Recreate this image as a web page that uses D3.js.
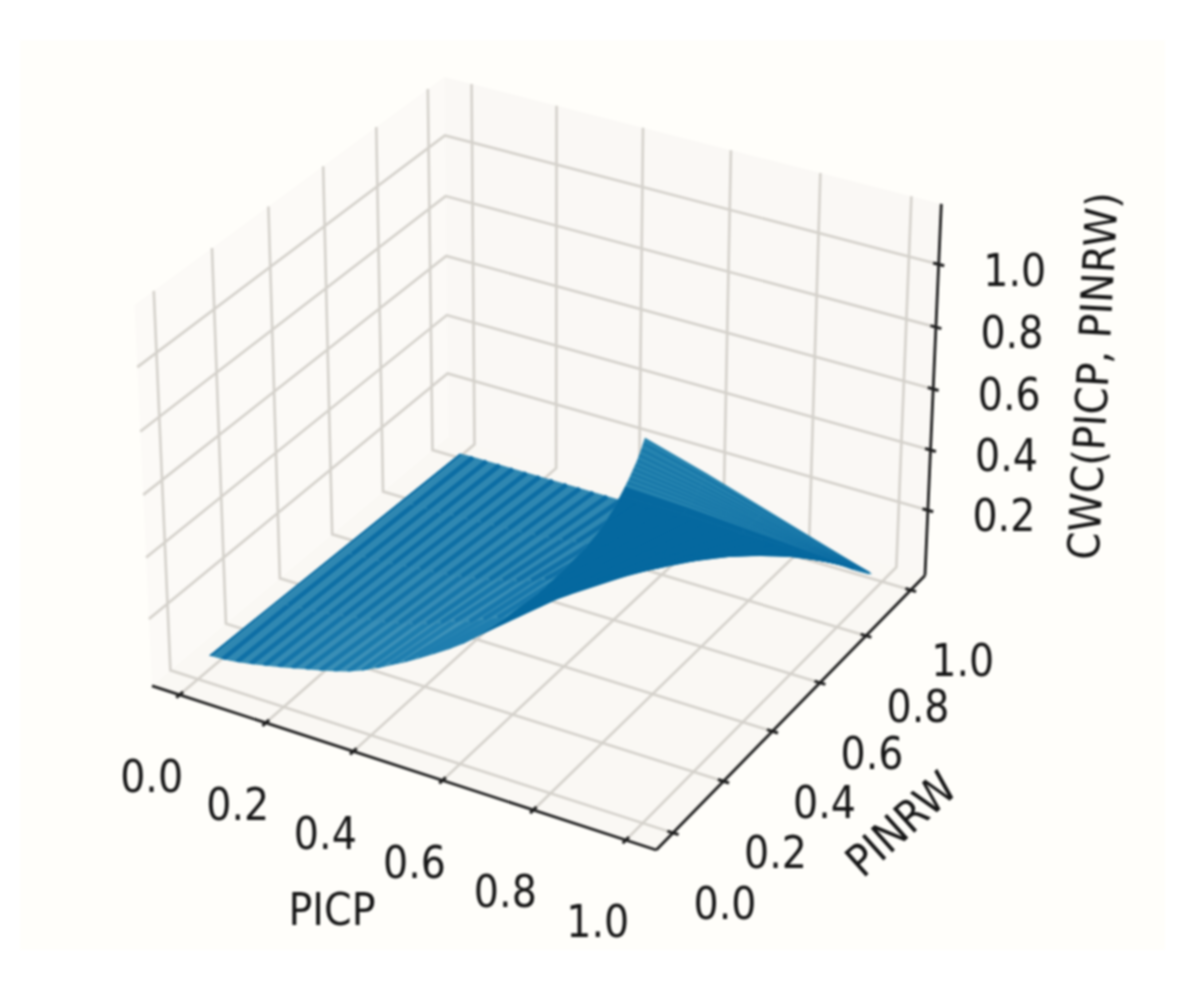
<!DOCTYPE html>
<html><head><meta charset="utf-8">
<script src="https://cdnjs.cloudflare.com/ajax/libs/d3/7.8.5/d3.min.js"></script>
<style>html,body{margin:0;background:#fff}svg{display:block;filter:blur(.9px)}text{font-family:"DejaVu Sans",sans-serif;fill:#151515}</style>
</head><body><div id="c"></div>
<script>
// ---------- data ----------
const picpGrid = [.015,.047,.08,.112,.144,.177,.209,.241,.274,.306,.338,.371,.403,.435,.468,.5,.532,.565,.597,.629,.662,.694,.726,.759,.791,.823,.856,.888,.896,.904,.912,.92,.928,.936,.944,.9485,.953,.957,.961,.965,.969,.973,.977,.981,.985];
const pinrwGrid = [.02,.26,.5,.74,.98];
const cwcAtPinrw000 = [.05,.052,.058,.066,.075,.085,.096,.107,.118,.13,.144,.162,.185,.21,.235,.262,.29,.32,.352,.39,.435,.48,.53,.58,.635,.695,.755,.825,.845,.865,.888,.91,.935,.958,.985,1.0,1.015,1.03,1.045,1.06,1.075,1.092,1.11,1.13,1.15];
const cwcAtPinrw025 = [.045,.045,.049,.053,.06,.068,.075,.083,.09,.101,.113,.128,.146,.165,.178,.2,.22,.243,.27,.3,.338,.368,.405,.443,.484,.529,.574,.626,.641,.656,.674,.69,.709,.726,.746,.7575,.769,.78,.791,.8025,.814,.8265,.84,.855,.87];
const cwcAtPinrw050 = [.035,.035,.038,.04,.045,.05,.055,.06,.065,.073,.08,.09,.103,.115,.13,.148,.165,.183,.195,.21,.23,.25,.275,.30,.328,.358,.388,.423,.433,.443,.454,.465,.478,.489,.503,.51,.518,.525,.533,.54,.548,.556,.565,.575,.585];
const cwcAtPinrw075 = [.025,.025,.026,.027,.03,.032,.035,.037,.04,.043,.047,.052,.058,.065,.072,.081,.09,.098,.105,.112,.122,.132,.145,.157,.171,.186,.201,.218,.223,.228,.234,.24,.246,.252,.258,.262,.266,.27,.273,.277,.281,.285,.29,.295,.3];
const cwcAtPinrw100 = [.015,.015,.015,.015,.015,.015,.015,.015,.015,.015,.015,.015,.015,.015,.015,.015,.015,.015,.015,.015,.015,.015,.015,.015,.015,.015,.015,.015,.015,.015,.015,.015,.015,.015,.015,.015,.015,.015,.015,.015,.015,.015,.015,.015,.015];
const cwcRows = [cwcAtPinrw000,cwcAtPinrw025,cwcAtPinrw050,cwcAtPinrw075,cwcAtPinrw100];
const xTicks = [0,.2,.4,.6,.8,1];
const yTicks = [0,.2,.4,.6,.8,1];
const zTicks = [.2,.4,.6,.8,1];
const xName = "PICP", yName = "PINRW", zName = "CWC(PICP, PINRW)";

// ---------- 3D scales and projection (elev 30, azim -60, box 4:4:3) ----------
const W=1197,H=982;
const xLim=[-.065,1.065], yLim=[-.065,1.065], zLim=[-.02,1.19];
const bx=1.143, bz=.857, dist=10;
const sx=d3.scaleLinear().domain(xLim).range([-bx/2,bx/2]);
const sy=d3.scaleLinear().domain(yLim).range([-bx/2,bx/2]);
const sz=d3.scaleLinear().domain(zLim).range([-bz/2,bz/2]);
const s3=Math.sqrt(3)/2;
const U=[s3,.5,0], V=[-.25,s3/2,s3], N=[s3/2,-.75,.5];
const dot=(a,b)=>a[0]*b[0]+a[1]*b[1]+a[2]*b[2];
function view(x,y,z){const d=[sx(x),sy(y),sz(z)];const w=dot(N,d)-dist;return{u:dot(U,d)/-w,v:dot(V,d)/-w,w};}
const pX=d3.scaleLinear().domain([view(xLim[0],yLim[0],zLim[0]).u,view(xLim[1],yLim[1],zLim[0]).u]).range([152,925]);
const pY=d3.scaleLinear().domain([view(xLim[1],yLim[0],zLim[0]).v,view(xLim[0],yLim[1],zLim[1]).v]).range([850,77]);
const P=(x,y,z)=>{const v=view(x,y,z);return[pX(v.u),pY(v.v)];};
const line=d3.line();

const svg=d3.select("#c").append("svg").attr("width",W).attr("height",H);
svg.append("rect").attr("x",20).attr("y",40).attr("width",1145).attr("height",910).attr("fill","#fffefa");

// ---------- panes ----------
const [x0,x1]=xLim,[y0,y1]=yLim,[z0,z1]=zLim;
const panes=[
 {pts:[P(x0,y0,z0),P(x0,y1,z0),P(x0,y1,z1),P(x0,y0,z1)],fill:"#fcfaf7"},
 {pts:[P(x0,y1,z0),P(x1,y1,z0),P(x1,y1,z1),P(x0,y1,z1)],fill:"#faf8f5"},
 {pts:[P(x0,y0,z0),P(x1,y0,z0),P(x1,y1,z0),P(x0,y1,z0)],fill:"#faf8f4"}];
svg.selectAll(".pane").data(panes).join("path").attr("class","pane")
  .attr("d",d=>line(d.pts)+"Z").attr("fill",d=>d.fill);

// ---------- grid ----------
const grid=[
 ...xTicks.map(t=>[P(t,y0,z0),P(t,y1,z0),P(t,y1,z1)]),
 ...yTicks.map(t=>[P(x1,t,z0),P(x0,t,z0),P(x0,t,z1)]),
 ...zTicks.map(t=>[P(x0,y0,t),P(x0,y1,t),P(x1,y1,t)])];
svg.selectAll(".grid").data(grid).join("path").attr("class","grid")
  .attr("d",d=>line(d)).attr("fill","none").attr("stroke","#d4d1cb").attr("stroke-width",2.6);

// ---------- surface ----------
// three sheets: the steep back flap, the fold seen from below, the upper side
const foldCol=34;
const allQuads=[];
for(let j=0;j<pinrwGrid.length-1;j++)for(let i=0;i<picpGrid.length-1;i++){
  const c=[[i,j],[i+1,j],[i+1,j+1],[i,j+1]].map(([a,b])=>[picpGrid[a],pinrwGrid[b],cwcRows[b][a]]);
  allQuads.push({i,j,pts:c.map(q=>P(...q))});
}
const flap=allQuads.filter(q=>q.i>=foldCol).sort((a,b)=>b.i-a.i);
const fold=allQuads.filter(q=>q.i>=12&&q.i<foldCol).sort((a,b)=>b.i-a.i);
const upper=allQuads.filter(q=>q.i<foldCol);

const upperOutline=[
  ...picpGrid.slice(0,foldCol+1).map((t,i)=>P(t,pinrwGrid[0],cwcRows[0][i])),
  P(picpGrid[0],pinrwGrid[4],cwcRows[4][0])];
svg.append("defs").append("clipPath").attr("id","upperClip").append("path").attr("d",line(upperOutline)+"Z");

const lighten=d3.interpolateRgb("#2f87b1","#4093b9");
const ruleTone=d3.interpolateRgb("#0c6da4","#1f7eaf");
const weight=q=>Math.max(0,1-q.j/2.5)*Math.min(1,q.i/12);

function drawSheet(g,quads,fill,rule,ruleWidth){
  const qs=g.selectAll("g").data(quads).join("g");
  qs.append("path").attr("d",d=>line(d.pts)+"Z").attr("fill",fill).attr("stroke",fill).attr("stroke-width",.8);
  if(rule) qs.append("path").attr("d",d=>line([d.pts[0],d.pts[3]]))
    .attr("fill","none").attr("stroke",rule).attr("stroke-width",ruleWidth);
}
drawSheet(svg.append("g"),flap,()=>"#2583af",()=>"#0b6ba2",2.6);
drawSheet(svg.append("g"),fold,()=>"#05689f",null,0);
drawSheet(svg.append("g").attr("clip-path","url(#upperClip)"),upper,q=>lighten(weight(q)),q=>ruleTone(weight(q)),4.6);

// ---------- axes and ticks ----------
const axisLines=[[P(x0,y0,z0),P(x1,y0,z0)],[P(x1,y0,z0),P(x1,y1,z0)],[P(x1,y1,z0),P(x1,y1,z1)]];
svg.selectAll(".ax").data(axisLines).join("path").attr("class","ax").attr("d",d=>line(d))
  .attr("fill","none").attr("stroke","#1e1e1e").attr("stroke-width",2.8);
const dT=.012,dZ=.012;
const tickSegs=[
 ...xTicks.map(t=>[P(t,y0+dT,z0),P(t,y0-dT,z0)]),
 ...yTicks.map(t=>[P(x1-dT,t,z0),P(x1+dT,t,z0)]),
 ...zTicks.map(t=>[P(x1-dZ,y1,t),P(x1+dZ,y1,t)])];
svg.selectAll(".tk").data(tickSegs).join("path").attr("class","tk").attr("d",d=>line(d))
  .attr("fill","none").attr("stroke","#1e1e1e").attr("stroke-width",3);

// ---------- text ----------
const fmt=d3.format(".1f");
function label(x,y,str,rot=0){
  svg.append("text").attr("transform",`translate(${x},${y}) rotate(${rot}) scale(.9,1)`)
    .attr("text-anchor","middle").attr("dominant-baseline","central")
    .attr("font-size",44).text(str);
}
xTicks.forEach(t=>{const p=P(t,y0,z0);label(p[0]-28,p[1]+82,fmt(t));});
yTicks.forEach(t=>{const p=P(x1,t,z0);label(p[0]+52,p[1]+71,fmt(t));});
zTicks.forEach(t=>{const p=P(x1,y1,t);label(p[0]+76,p[1]+6,fmt(t));});
label(332,910,xName);
label(901,824,yName,-42);
label(1093,376,zName,-87);
</script></body></html>
